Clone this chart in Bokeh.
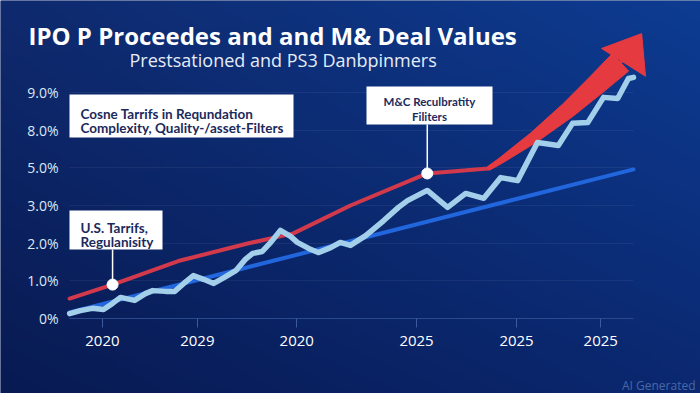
import numpy as np
from bokeh.plotting import figure
from bokeh.models import Range1d, FixedTicker, Label, BoxAnnotation
from bokeh.embed import file_html
from bokeh.resources import INLINE

# ---------------- data ----------------
x_tick_pos = [6.0, 22.8, 40.4, 61.6, 79.3, 94.2]
x_tick_labels = ["2020", "2029", "2020", "2025", "2025", "2025"]
y_tick_pos = [0, 1, 2, 3, 4, 5, 6]
y_tick_labels = ["0%", "1.0%", "2.0%", "3.0%", "5.0%", "8.0%", "9.0%"]

# light blue wiggly series (IPO proceeds)
ipo_t = [0.2, 2.1, 4.2, 6.2, 7.8, 9.2, 11.7, 13.6, 14.9, 17.2, 18.8, 20.4, 22.1,
         23.9, 25.7, 27.6, 29.6, 31.3, 32.6, 34.3, 35.8, 37.5, 39.3, 40.5, 42.5,
         44.2, 46.4, 48.1, 49.9, 52.6, 55.8, 58.4, 60.0, 63.5, 67.1, 70.3, 73.5,
         76.5, 79.5, 83.0, 86.7, 89.2, 91.9, 94.7, 97.2, 99.1, 100.0]
ipo_v = [0.13, 0.21, 0.27, 0.24, 0.40, 0.56, 0.48, 0.66, 0.74, 0.72, 0.72, 0.93, 1.14,
         1.04, 0.93, 1.09, 1.27, 1.57, 1.73, 1.78, 2.02, 2.34, 2.18, 2.02, 1.86,
         1.75, 1.88, 2.02, 1.94, 2.20, 2.60, 2.95, 3.13, 3.40, 2.95, 3.32, 3.19,
         3.74, 3.66, 4.67, 4.59, 5.18, 5.20, 5.87, 5.84, 6.37, 6.40]

# red series (M&A deal values), ending in the arrow
ma_t = [0.2, 7.8, 19.8, 31.7, 39.8, 49.9, 63.5, 74.3, 76.5, 82.3, 88.3, 93.3, 97.7]
ma_v = [0.53, 0.90, 1.54, 1.99, 2.26, 3.00, 3.85, 3.98, 4.19, 4.80, 5.52, 6.19, 6.80]

# straight blue trend
trend_t = [0.2, 100.0]
trend_v = [0.16, 3.96]

# annotated points on the red series
marker_idx = [1, 6]

title_text = "IPO P Proceedes and and M& Deal Values"
subtitle_text = "Prestsationed and PS3 Danbpinmers"
note1 = ["Cosne Tarrifs in Requndation", "Complexity, Quality-/asset-Filters"]
note2 = ["U.S. Tarrifs,", "Regulanisity"]
note3 = ["M&C Reculbratity", "Filiters"]

# ---------------- layout ----------------
W, H = 700, 393
SX, SY = 5.65, 37.67            # px per data unit
X0_PX, Y0_PX = 68, 318          # page px of t=0 and value=0
X_MIN = -X0_PX / SX
X_MAX = X_MIN + W / SX
Y_MAX = Y0_PX / SY
Y_MIN = Y_MAX - H / SY


def X(px):
    return (px - X0_PX) / SX


def Y(py):
    return (Y0_PX - py) / SY


p = figure(width=W, height=H, x_range=Range1d(X_MIN, X_MAX),
           y_range=Range1d(Y_MIN, Y_MAX), toolbar_location=None,
           output_backend="svg", min_border=0)
p.outline_line_color = None
p.background_fill_color = "#0b2566"
p.border_fill_color = "#0b2566"

# gradient background
ny, nx = 131, 234
gx = np.linspace(0, 1, nx)[None, :]
gy = np.linspace(0, 1, ny)[:, None]   # 0 = bottom row
tl = np.array([15, 42, 110]); tr = np.array([13, 60, 146])
bl = np.array([8, 26, 82]); br = np.array([11, 40, 112])
top = tl[None, None, :] * (1 - gx[..., None]) + tr[None, None, :] * gx[..., None]
bot = bl[None, None, :] * (1 - gx[..., None]) + br[None, None, :] * gx[..., None]
rgb = bot * (1 - gy[..., None]) + top * gy[..., None]
img = np.empty((ny, nx), dtype=np.uint32)
view = img.view(dtype=np.uint8).reshape((ny, nx, 4))
view[..., 0] = rgb[..., 0].astype(np.uint8)
view[..., 1] = rgb[..., 1].astype(np.uint8)
view[..., 2] = rgb[..., 2].astype(np.uint8)
view[..., 3] = 255
p.image_rgba(image=[img], x=X_MIN, y=Y_MIN, dw=X_MAX - X_MIN, dh=Y_MAX - Y_MIN,
             level="image")

# axes drawn at fixed locations so the frame fills the canvas
xt = FixedTicker(ticks=x_tick_pos)
yt = FixedTicker(ticks=y_tick_pos)
p.xaxis.ticker = xt
p.xgrid.ticker = xt
p.xaxis.fixed_location = 0
p.xaxis.major_label_overrides = {t: l for t, l in zip(x_tick_pos, x_tick_labels)}
p.xaxis.major_label_text_color = "#ffffff"
p.xaxis.major_label_text_font = "Open Sans"
p.xaxis.major_label_text_font_size = "15px"
p.xaxis.major_label_standoff = 8
p.xaxis.major_tick_out = 9
p.xaxis.major_tick_in = 0
p.xaxis.major_tick_line_color = "#3c5a9c"
p.xaxis.minor_tick_line_color = None
p.xaxis.axis_line_color = "#2a4a8e"
p.xaxis.bounds = (min(ipo_t), max(ipo_t))

p.yaxis.ticker = yt
p.ygrid.ticker = yt
p.yaxis.fixed_location = X(62)
p.yaxis.major_label_overrides = {t: l for t, l in zip(y_tick_pos, y_tick_labels)}
p.yaxis.major_label_text_color = "#dfe5f2"
p.yaxis.major_label_text_font = "Open Sans"
p.yaxis.major_label_text_font_size = "14px"
p.yaxis.major_label_standoff = 4
p.yaxis.major_tick_out = 0
p.yaxis.major_tick_in = 0
p.yaxis.minor_tick_line_color = None
p.yaxis.axis_line_color = None

p.xgrid.grid_line_color = None
p.ygrid.grid_line_color = "#ffffff"
p.ygrid.grid_line_alpha = 0.06
if "cross_bounds" in p.ygrid[0].properties():
    p.ygrid.cross_bounds = (min(ipo_t), max(ipo_t))

# trend line
p.line(trend_t, trend_v, line_color="#2266dd", line_width=4, line_cap="round")

# red line
p.line(ma_t, ma_v, line_color="#d23a4c", line_width=4, line_cap="round",
       line_join="round")

# red arrow body grows from the flat point onward
ARROW = "#e53a40"
mt = np.array(ma_t)
mv = np.array(ma_v)
k = 7
pts = np.c_[mt[k:] * SX, mv[k:] * SY]
tang = np.gradient(pts, axis=0)
tang /= np.linalg.norm(tang, axis=1)[:, None]
nrm = np.c_[-tang[:, 1], tang[:, 0]]
w = np.clip(4 + (mt[k:] - mt[k]) * 0.85, 4, 24)
up = pts + nrm * (w / 2)[:, None]
lo = pts - nrm * (w / 2)[:, None]
body = np.vstack([up, lo[::-1]])
p.patch(body[:, 0] / SX, body[:, 1] / SY, fill_color=ARROW,
        line_color=ARROW, line_width=1)
d = pts[-1] - pts[-2]
d /= np.linalg.norm(d)
rot = np.deg2rad(15)                 # head tilts a little more upward
d = np.array([d[0] * np.cos(rot) - d[1] * np.sin(rot),
              d[0] * np.sin(rot) + d[1] * np.cos(rot)])
n = np.array([-d[1], d[0]])
base = pts[-1] + np.array([3.0, 0.0])
tip = base + d * 34
c1 = base + n * 26
c2 = base - n * 26
head = np.vstack([c1, tip, c2])
p.patch(head[:, 0] / SX, head[:, 1] / SY, fill_color=ARROW,
        line_color=ARROW, line_width=1)

# light blue series on top
p.line(ipo_t, ipo_v, line_color="#a3cfea", line_width=5.5, line_cap="round",
       line_join="round")

# connectors + markers
mx = [ma_t[i] for i in marker_idx]
my = [ma_v[i] for i in marker_idx]
p.segment(x0=mx, y0=my, x1=mx, y1=[Y(249), Y(124)],
          line_color="#ffffff", line_width=1.5)
p.scatter(mx, my, size=11, fill_color="#ffffff", line_color="#ffffff")

# annotation boxes
for (l, t, r, b) in [(69, 94, 293, 137), (69, 210, 162, 249), (366, 86, 492, 124)]:
    p.add_layout(BoxAnnotation(left=X(l), right=X(r), top=Y(t), bottom=Y(b),
                               fill_color="#ffffff", fill_alpha=1.0,
                               line_color=None))

NAVY = "#1b2a5c"


def add_text(txt, px, py, size, align="left", color=NAVY, font="Lato",
             style="bold"):
    p.add_layout(Label(x=X(px), y=Y(py), text=txt, text_align=align,
                       text_baseline="alphabetic", text_color=color,
                       text_font=font, text_font_size=size,
                       text_font_style=style))


add_text(note1[0], 80, 113, "13.5px")
add_text(note1[1], 80, 127.5, "13.5px")
add_text(note2[0], 80, 227, "13.5px")
add_text(note2[1], 80, 241, "13.5px")
add_text(note3[0], 429, 101, "11.5px", align="center")
add_text(note3[1], 429, 116, "11.5px", align="center")

# title and subtitle
add_text(title_text, 28, 35, "24px", color="#ffffff", font="Open Sans")
add_text(subtitle_text, 129, 59, "18px", color="#e6ecf7", font="Open Sans",
         style="normal")

# watermark
add_text("AI Generated", 695, 385, "12px", align="right", color="#4868a6",
         font="Open Sans", style="normal")

open("out.html", "w").write(file_html(p, INLINE))
